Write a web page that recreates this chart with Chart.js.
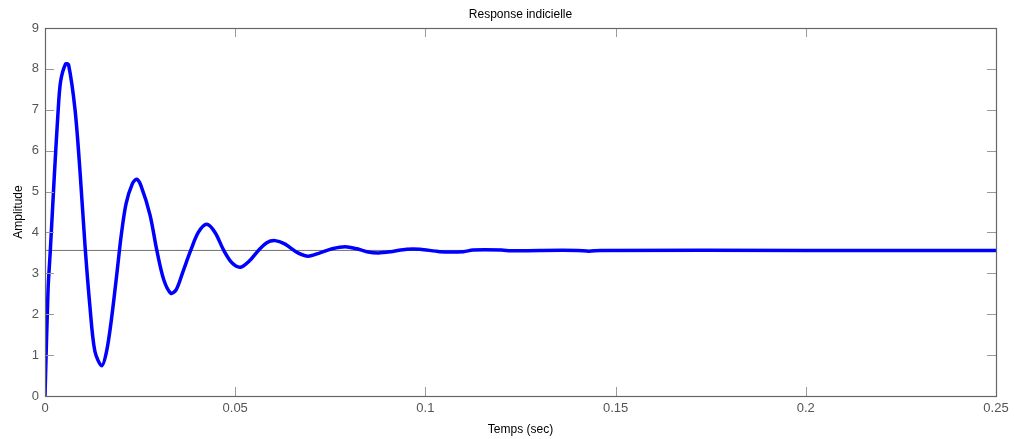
<!DOCTYPE html>
<html>
<head>
<meta charset="utf-8">
<script src="https://cdn.jsdelivr.net/npm/chart.js@4"></script>
<style>
  html, body { margin: 0; padding: 0; background: #fff; }
  #wrap { width: 1014px; height: 439px; }
</style>
</head>
<body>
<div id="wrap"><canvas id="stepChart" width="1014" height="439"></canvas></div>
<script>
// step response
const times = [0, 0.0008, 0.0014, 0.0024, 0.0034, 0.0041, 0.0054, 0.0062, 0.0079, 0.0092,
  0.0105, 0.0118, 0.0131, 0.0149, 0.0162, 0.0175, 0.0189, 0.0200, 0.0213, 0.0230,
  0.0241, 0.0252, 0.0276, 0.0294, 0.0312, 0.0331, 0.0345, 0.0363, 0.0383, 0.0403,
  0.0425, 0.0447, 0.0470, 0.0492, 0.0514, 0.0537, 0.0561, 0.0583, 0.0605, 0.0630,
  0.0665, 0.0692, 0.0723, 0.0755, 0.0789, 0.0820, 0.0846, 0.0876, 0.0910, 0.0951,
  0.0986, 0.1038, 0.1100, 0.1125, 0.1200, 0.1225, 0.1300, 0.1400, 0.1430, 0.1460,
  0.2000, 0.2500];
const amplitude = [0, 2.6, 3.56, 5.3, 6.9, 7.69, 8.12, 8.10, 7.0, 5.5,
  3.7, 2.2, 1.1, 0.74, 1.1, 1.9, 3.0, 3.9, 4.7, 5.2,
  5.3, 5.15, 4.43, 3.56, 2.85, 2.51, 2.6, 3.05, 3.56, 4.0,
  4.2, 4.0, 3.56, 3.25, 3.15, 3.3, 3.56, 3.75, 3.80, 3.72,
  3.5, 3.42, 3.5, 3.6, 3.65, 3.6, 3.53, 3.50, 3.53, 3.59,
  3.59, 3.53, 3.53, 3.57, 3.57, 3.55, 3.56, 3.56, 3.54, 3.56,
  3.56, 3.56];
const steadyValue = 3.56;
const xTicks = [0, 0.05, 0.1, 0.15, 0.2, 0.25];
const yTicks = [0, 1, 2, 3, 4, 5, 6, 7, 8, 9];

const responsePoints = times.map((t, i) => ({ x: t, y: amplitude[i] }));
const steadyPoints = [{ x: xTicks[0], y: steadyValue }, { x: xTicks[xTicks.length - 1], y: steadyValue }];

// matlab style box with ticks pointing inward
const boxTicks = {
  id: 'boxTicks',
  afterDatasetsDraw(chart) {
    const ctx = chart.ctx;
    const a = chart.chartArea;
    const xs = chart.scales.x;
    const ys = chart.scales.y;
    const len = 9;
    ctx.save();
    ctx.strokeStyle = '#9a9a9a';
    ctx.lineWidth = 1;
    ctx.beginPath();
    xTicks.forEach((v) => {
      const px = Math.round(xs.getPixelForValue(v)) + 0.5;
      ctx.moveTo(px, a.bottom);
      ctx.lineTo(px, a.bottom - len);
      ctx.moveTo(px, a.top);
      ctx.lineTo(px, a.top + len);
    });
    yTicks.forEach((v) => {
      const py = Math.round(ys.getPixelForValue(v)) + 0.5;
      ctx.moveTo(a.left, py);
      ctx.lineTo(a.left + len, py);
      ctx.moveTo(a.right, py);
      ctx.lineTo(a.right - len, py);
    });
    ctx.stroke();
    ctx.strokeStyle = '#666666';
    ctx.lineWidth = 1.2;
    ctx.strokeRect(Math.round(a.left) + 0.5, Math.round(a.top) + 0.5,
      Math.round(a.right - a.left), Math.round(a.bottom - a.top));
    ctx.restore();
  },
};

new Chart(document.getElementById('stepChart').getContext('2d'), {
  type: 'line',
  data: {
    datasets: [
      {
        data: steadyPoints,
        borderColor: '#707070',
        borderWidth: 1,
        pointRadius: 0,
        order: 2,
      },
      {
        data: responsePoints,
        borderColor: '#0000ff',
        borderWidth: 3.5,
        pointRadius: 0,
        tension: 0.3,
        order: 1,
      },
    ],
  },
  options: {
    responsive: false,
    animation: false,
    layout: { padding: { left: 0, right: 18, top: 0, bottom: 0 } },
    plugins: {
      legend: { display: false },
      tooltip: { enabled: false },
      title: {
        display: true,
        text: 'Response indicielle',
        color: '#000',
        fullSize: false,
        font: { family: 'Liberation Sans, Arial, sans-serif', size: 12, weight: 'normal' },
        padding: { top: 7, bottom: 6.6 },
      },
    },
    scales: {
      x: {
        type: 'linear',
        min: 0,
        max: 0.25,
        afterBuildTicks: (s) => { s.ticks = xTicks.map((v) => ({ value: v })); },
        afterFit: (s) => { s.height = 43; },
        grid: { display: false, drawTicks: false },
        border: { display: false },
        ticks: {
          color: '#555',
          padding: 5,
          maxRotation: 0,
          font: { family: 'Liberation Sans, Arial, sans-serif', size: 13 },
          callback: (v) => String(Math.round(v * 100) / 100),
        },
        title: {
          display: true,
          text: 'Temps (sec)',
          color: '#000',
          font: { family: 'Liberation Sans, Arial, sans-serif', size: 12 },
          padding: { top: 0, bottom: 2 },
        },
      },
      y: {
        min: 0,
        max: 9,
        afterBuildTicks: (s) => { s.ticks = yTicks.map((v) => ({ value: v })); },
        afterFit: (s) => { s.width = 45; },
        grid: { display: false, drawTicks: false },
        border: { display: false },
        ticks: {
          color: '#555',
          padding: 6,
          font: { family: 'Liberation Sans, Arial, sans-serif', size: 13 },
        },
        title: {
          display: true,
          text: 'Amplitude',
          color: '#000',
          font: { family: 'Liberation Sans, Arial, sans-serif', size: 12 },
          padding: { top: 11, bottom: 0 },
        },
      },
    },
  },
  plugins: [boxTicks],
});
</script>
</body>
</html>
